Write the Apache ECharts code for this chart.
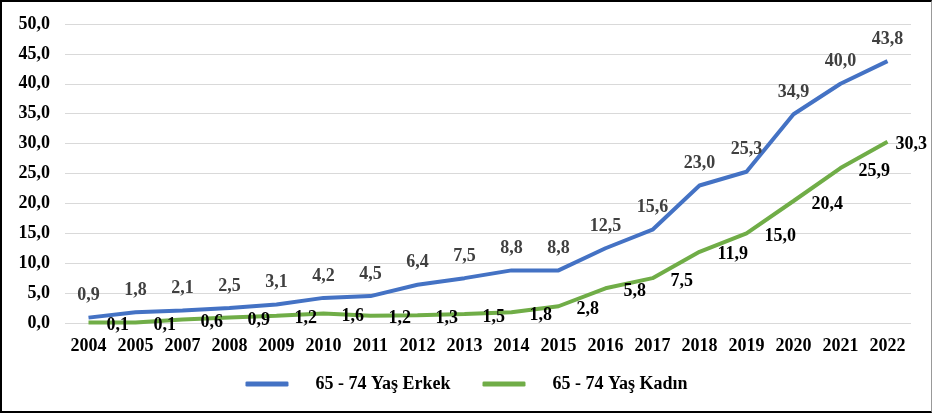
<!DOCTYPE html>
<html>
<head>
<meta charset="utf-8">
<script src="https://cdn.jsdelivr.net/npm/echarts@6/dist/echarts.min.js"></script>
<style>
  html, body { margin: 0; padding: 0; background: #fff; }
  #chart {
    width: 932px; height: 413px; box-sizing: border-box;
    border-top: 2px solid #000; border-left: 2px solid #000;
    border-bottom: 2px solid #000; border-right: 1px solid #999;
  }
</style>
</head>
<body>
<div id="chart"></div>
<script>
  // yıllar (2006 yok)
  const years = ['2004', '2005', '2007', '2008', '2009', '2010', '2011', '2012', '2013',
    '2014', '2015', '2016', '2017', '2018', '2019', '2020', '2021', '2022']
  const erkek = [0.9, 1.8, 2.1, 2.5, 3.1, 4.2, 4.5, 6.4, 7.5, 8.8, 8.8, 12.5, 15.6, 23.0, 25.3, 34.9, 40.0, 43.8]
  const kadin = [0.1, 0.1, 0.6, 0.9, 1.2, 1.6, 1.2, 1.3, 1.5, 1.8, 2.8, 5.8, 7.5, 11.9, 15.0, 20.4, 25.9, 30.3]
  const seriesNames = ['65 - 74 Yaş Erkek', '65 - 74 Yaş Kadın']

  const font = '"Liberation Serif", "Times New Roman", serif'
  const fmt = v => v.toFixed(1).replace('.', ',')

  const chart = echarts.init(document.getElementById('chart'))
  chart.setOption({
    animation: false,
    textStyle: { fontFamily: font },
    grid: { left: 63, right: 20, top: 22, bottom: 88 },
    legend: {
      bottom: 13,
      left: 'center',
      icon: 'roundRect',
      itemWidth: 43,
      itemHeight: 5,
      itemGap: 32,
      textStyle: { fontFamily: font, fontWeight: 'bold', fontSize: 18, color: '#000', padding: [0, 0, 0, 22] },
      data: seriesNames
    },
    xAxis: {
      type: 'category',
      data: years,
      boundaryGap: true,
      axisLine: { show: false },
      axisTick: { show: false },
      axisLabel: { fontFamily: font, fontWeight: 'bold', fontSize: 18, color: '#000', margin: 14 }
    },
    yAxis: {
      type: 'value',
      min: 0,
      max: 50,
      interval: 5,
      axisLine: { show: false },
      axisTick: { show: false },
      splitLine: { lineStyle: { color: '#d9d9d9', width: 1 } },
      axisLabel: {
        fontFamily: font, fontWeight: 'bold', fontSize: 18, color: '#000', margin: 15,
        formatter: v => fmt(v)
      }
    },
    series: [
      {
        name: seriesNames[0],
        type: 'line',
        data: erkek,
        symbol: 'circle',
        symbolSize: 0,
        lineStyle: { color: '#4472C4', width: 4 },
        itemStyle: { color: '#4472C4' },
        label: {
          show: true, position: 'top', distance: 13,
          fontFamily: font, fontWeight: 'bold', fontSize: 18, color: '#404040',
          formatter: p => fmt(p.value)
        }
      },
      {
        name: seriesNames[1],
        type: 'line',
        data: kadin.map((v, i) => i === kadin.length - 1 ? { value: v, label: { distance: 8 } } : v),
        symbol: 'circle',
        symbolSize: 0,
        lineStyle: { color: '#70AD47', width: 4 },
        itemStyle: { color: '#70AD47' },
        label: {
          show: true, position: 'right', distance: 18, offset: [0, 3],
          fontFamily: font, fontWeight: 'bold', fontSize: 18, color: '#000',
          formatter: p => fmt(typeof p.value === 'number' ? p.value : p.data.value)
        }
      }
    ]
  })
</script>
</body>
</html>
